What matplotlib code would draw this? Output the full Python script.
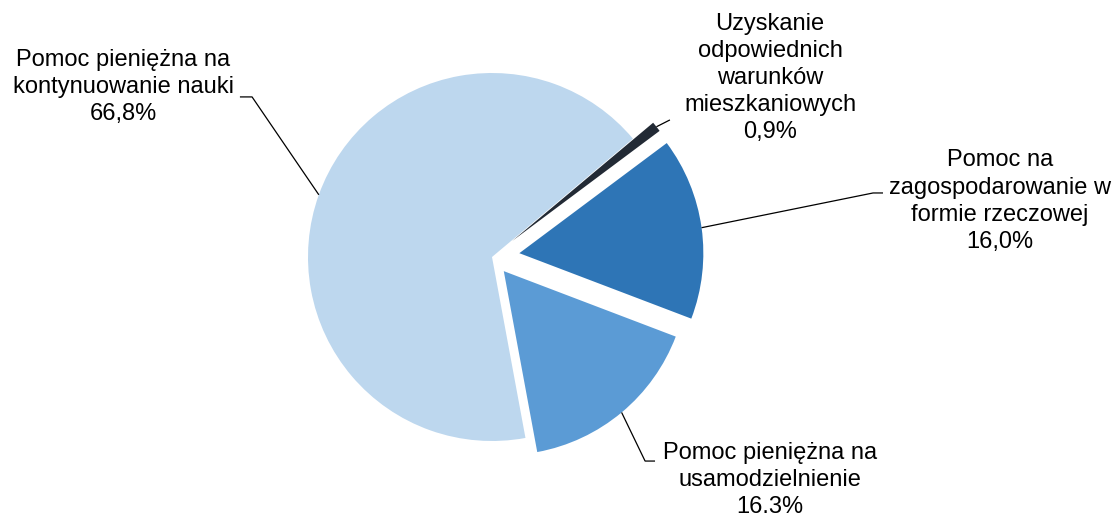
import numpy as np
import matplotlib
matplotlib.use('Agg')
import matplotlib.pyplot as plt

# Forms of support, clockwise from the top-right
categories = [
    'Uzyskanie\nodpowiednich\nwarunków\nmieszkaniowych',
    'Pomoc na\nzagospodarowanie w\nformie rzeczowej',
    'Pomoc pieniężna na\nusamodzielnienie',
    'Pomoc pieniężna na\nkontynuowanie nauki',
]
shares = [0.9, 16.0, 16.3, 66.8]
value_labels = ['0,9%', '16,0%', '16.3%', '66,8%']

colors = ['#222A35', '#2E75B6', '#5B9BD5', '#BDD7EE']
explode = [0.14, 0.15, 0.10, 0.0]

# label centre and leader elbow points (data units, pie radius = 1)
label_pos = [(1.511, 0.973), (2.761, 0.304), (1.511, -1.212), (-2.005, 0.924)]
elbows = [
    [(0.967, 0.745)],
    [(2.071, 0.348), (2.125, 0.348)],
    [(0.832, -1.109), (0.886, -1.109)],
    [(-1.304, 0.870), (-1.370, 0.870)],
]

plt.rcParams['font.family'] = ['Liberation Sans', 'DejaVu Sans']

fig = plt.figure(figsize=(11.14, 5.16), dpi=100)
ax = fig.add_axes([0, 0, 1, 1])

wedges, _ = ax.pie(shares, colors=colors, explode=explode, startangle=40,
                   counterclock=False, radius=1.0,
                   wedgeprops=dict(linewidth=0))

for w, cat, val, pos, elb in zip(wedges, categories, value_labels, label_pos, elbows):
    mid = np.deg2rad((w.theta1 + w.theta2) / 2)
    cx, cy = w.center
    anchor = (cx + w.r * np.cos(mid), cy + w.r * np.sin(mid))
    pts = [anchor] + elb
    ax.plot([p[0] for p in pts], [p[1] for p in pts], color='black', lw=0.9,
            solid_capstyle='butt')
    ax.text(pos[0], pos[1], f'{cat}\n{val}', ha='center', va='center',
            fontsize=17, linespacing=1.3, color='black')

ax.set_xlim(-492 / 184, (1114 - 492) / 184)
ax.set_ylim(-(516 - 257) / 184, 257 / 184)
ax.set_aspect('auto')
ax.axis('off')

fig.savefig('out.png', dpi=100)
